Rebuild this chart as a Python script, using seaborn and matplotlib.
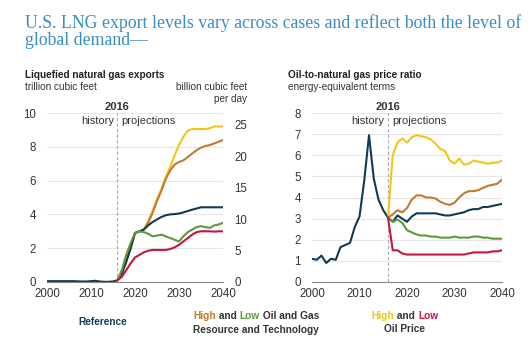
import numpy as np
import pandas as pd
import matplotlib
matplotlib.use("Agg")
import matplotlib.pyplot as plt
import seaborn as sns

sns.set_theme(style="white")
plt.rcParams['font.family'] = ['Liberation Sans', 'DejaVu Sans']

# ---------------- data ----------------
hist_years = list(range(2000, 2017))
proj_years = list(range(2016, 2041))

# LNG exports, trillion cubic feet
lng_history = [0.05, 0.05, 0.05, 0.05, 0.05, 0.05, 0.05, 0.04, 0.03, 0.03, 0.05,
               0.07, 0.03, 0.01, 0.01, 0.03, 0.1]
lng_reference = [0.1, 0.5, 1.2, 2.0, 2.9, 3.0, 3.1, 3.35, 3.55, 3.7, 3.85, 3.95,
                 4.0, 4.02, 4.05, 4.12, 4.2, 4.28, 4.35, 4.42, 4.42, 4.42, 4.42, 4.42, 4.42]
lng_high_res = [0.1, 0.5, 1.2, 2.0, 2.9, 3.0, 3.1, 3.5, 4.1, 4.8, 5.4, 6.1,
                6.6, 6.95, 7.1, 7.2, 7.4, 7.6, 7.8, 7.95, 8.05, 8.1, 8.2, 8.3, 8.4]
lng_low_res = [0.1, 0.7, 1.6, 2.3, 2.9, 3.0, 2.95, 2.85, 2.7, 2.75, 2.8, 2.7,
               2.6, 2.5, 2.4, 2.7, 2.95, 3.1, 3.25, 3.3, 3.25, 3.2, 3.35, 3.4, 3.5]
lng_high_oil = [0.1, 0.5, 1.2, 2.0, 2.9, 3.0, 3.1, 3.6, 4.2, 4.9, 5.5, 6.2,
                6.8, 7.5, 8.1, 8.6, 8.95, 9.05, 9.05, 9.05, 9.05, 9.1, 9.2, 9.2, 9.2]
lng_low_oil = [0.1, 0.3, 0.7, 1.1, 1.45, 1.6, 1.75, 1.85, 1.9, 1.9, 1.9, 1.9,
               1.95, 2.05, 2.2, 2.4, 2.6, 2.8, 2.95, 3.0, 3.0, 3.0, 2.98, 3.0, 3.0]

# Oil-to-natural gas price ratio
ratio_history = [1.1, 1.05, 1.25, 0.9, 1.1, 1.05, 1.65, 1.75, 1.85, 2.6, 3.1,
                 4.8, 6.95, 4.9, 3.9, 3.4, 3.05]
ratio_reference = [3.05, 2.85, 3.15, 3.0, 2.85, 3.1, 3.25, 3.25, 3.25, 3.25, 3.25,
                   3.2, 3.15, 3.15, 3.2, 3.25, 3.3, 3.4, 3.45, 3.45, 3.55, 3.55, 3.6, 3.65, 3.7]
ratio_high_res = [3.05, 3.2, 3.4, 3.3, 3.5, 3.9, 4.1, 4.1, 4.0, 4.0, 3.95, 3.8,
                  3.7, 3.65, 3.75, 4.0, 4.2, 4.3, 4.3, 4.35, 4.45, 4.55, 4.6, 4.65, 4.85]
ratio_low_res = [3.05, 2.85, 2.95, 2.8, 2.45, 2.35, 2.25, 2.2, 2.2, 2.15, 2.15, 2.1,
                 2.1, 2.1, 2.15, 2.1, 2.1, 2.1, 2.15, 2.15, 2.1, 2.1, 2.05, 2.05, 2.05]
ratio_high_oil = [3.05, 6.0, 6.6, 6.8, 6.6, 6.85, 6.95, 6.9, 6.85, 6.75, 6.55, 6.3,
                  6.2, 5.75, 5.6, 5.85, 5.55, 5.6, 5.75, 5.7, 5.65, 5.6, 5.65, 5.65, 5.75]
ratio_low_oil = [3.05, 1.5, 1.5, 1.35, 1.3, 1.3, 1.3, 1.3, 1.3, 1.3, 1.3, 1.3,
                 1.3, 1.3, 1.3, 1.3, 1.3, 1.35, 1.4, 1.4, 1.4, 1.4, 1.45, 1.45, 1.5]

x_ticks = [2000, 2010, 2020, 2030, 2040]
left_ticks = [0, 2, 4, 6, 8, 10]
right2_ticks = [0, 5, 10, 15, 20, 25]
ratio_ticks = [0, 1, 2, 3, 4, 5, 6, 7, 8]

title_lines = ["U.S. LNG export levels vary across cases and reflect both the level of",
               "global demand\u2014"]

# ---------------- styles ----------------
C_REF = "#123a56"
C_HRES = "#c47a2c"
C_LRES = "#5c9a3a"
C_HOIL = "#f3c51a"
C_LOIL = "#c3173f"
TITLE_C = "#3a8dc4"
GRID_C = "#e6e6e6"
TEXT_C = "#333333"

series_order = ["history", "high_oil", "high_res", "reference", "low_res", "low_oil"]
palette = {"history": C_REF, "reference": C_REF, "high_res": C_HRES,
           "low_res": C_LRES, "high_oil": C_HOIL, "low_oil": C_LOIL}


def make_df(hist, ref, hres, lres, hoil, loil):
    frames = [pd.DataFrame({"year": hist_years, "value": hist, "case": "history"})]
    for name, vals in [("high_oil", hoil), ("high_res", hres), ("low_res", lres),
                       ("low_oil", loil), ("reference", ref)]:
        frames.append(pd.DataFrame({"year": proj_years, "value": vals, "case": name}))
    return pd.concat(frames, ignore_index=True)


df_lng = make_df(lng_history, lng_reference, lng_high_res, lng_low_res, lng_high_oil, lng_low_oil)
df_ratio = make_df(ratio_history, ratio_reference, ratio_high_res, ratio_low_res,
                   ratio_high_oil, ratio_low_oil)

W, H = 532, 338
fig = plt.figure(figsize=(W / 100, H / 100), dpi=100)


def px_axes(x0, y_top, x1, y_bot):
    return fig.add_axes([x0 / W, 1 - y_bot / H, (x1 - x0) / W, (y_bot - y_top) / H])


def style_axes(ax, ymax, yticks):
    ax.set_xlim(2000, 2040)
    ax.set_ylim(0, ymax)
    ax.set_xticks(x_ticks)
    ax.set_yticks(yticks)
    ax.tick_params(axis="both", labelsize=8.3, colors=TEXT_C, length=0, pad=3)
    ax.tick_params(axis="x", length=3, width=0.8, color="#888888", direction="inout")
    for lab in ax.get_xticklabels() + ax.get_yticklabels():
        lab.set_color(TEXT_C)
    for s in ["top", "right", "left"]:
        ax.spines[s].set_visible(False)
    ax.spines["bottom"].set_color("#888888")
    ax.spines["bottom"].set_linewidth(0.8)
    for t in yticks[1:]:
        ax.axhline(t, color=GRID_C, lw=0.8, zorder=0)
    ax.axvline(2016, color="#aaaaaa", lw=0.8, ls=(0, (3, 2)), zorder=1)
    ax.set_xlabel("")
    ax.set_ylabel("")
    ax.set_facecolor("none")
    ax.text(2016, ymax * 1.005, "2016", ha="center", va="bottom", fontsize=8,
            fontweight="bold", color=TEXT_C)
    ax.text(2015.2, ymax * 0.985, "history", ha="right", va="top", fontsize=8, color=TEXT_C)
    ax.text(2016.8, ymax * 0.985, "projections", ha="left", va="top", fontsize=8, color=TEXT_C)


# ---------------- left chart ----------------
ax1 = px_axes(47, 113, 223, 282)
sns.lineplot(data=df_lng, x="year", y="value", hue="case", hue_order=series_order,
             palette=palette, ax=ax1, legend=False, linewidth=1.5, sort=False)
style_axes(ax1, 10, left_ticks)
ax1.tick_params(axis="y", pad=8)
ax1r = ax1.twinx()
ax1r.set_ylim(0, 26.9)
ax1r.set_yticks(right2_ticks)
ax1r.tick_params(axis="y", labelsize=8.3, colors=TEXT_C, length=0, pad=8)
for s in ax1r.spines.values():
    s.set_visible(False)
ax1r.grid(False)

# ---------------- right chart ----------------
ax2 = px_axes(312, 113, 502, 282)
sns.lineplot(data=df_ratio, x="year", y="value", hue="case", hue_order=series_order,
             palette=palette, ax=ax2, legend=False, linewidth=1.5, sort=False)
style_axes(ax2, 8, ratio_ticks)
ax2.tick_params(axis="y", pad=8)

# ---------------- texts ----------------
for line, base in zip(title_lines, [28, 45]):
    fig.text(25 / W, 1 - base / H, line, ha="left", va="baseline", fontsize=12.8,
             color=TITLE_C, family="Liberation Serif")

SUB_FS = 7.2
fig.text(25 / W, 1 - 75 / H, "Liquefied natural gas exports", ha="left", va="center",
         fontsize=SUB_FS, fontweight="bold", color="#222222")
fig.text(25 / W, 1 - 87 / H, "trillion cubic feet", ha="left", va="center",
         fontsize=SUB_FS, color=TEXT_C)
fig.text(247 / W, 1 - 87 / H, "billion cubic feet", ha="right", va="center",
         fontsize=SUB_FS, color=TEXT_C)
fig.text(247 / W, 1 - 99 / H, "per day", ha="right", va="center",
         fontsize=SUB_FS, color=TEXT_C)
fig.text(288 / W, 1 - 75 / H, "Oil-to-natural gas price ratio", ha="left", va="center",
         fontsize=SUB_FS, fontweight="bold", color="#222222")
fig.text(288 / W, 1 - 87 / H, "energy-equivalent terms", ha="left", va="center",
         fontsize=SUB_FS, color=TEXT_C)

# legend texts
LEG_FS = 7.3
fig.text(103 / W, 1 - 322 / H, "Reference", ha="center", va="center",
         fontsize=LEG_FS, fontweight="bold", color=C_REF)


def colored_line(parts, xc, yc):
    # parts: list of (text, color); centered at xc (px), yc (px)
    renderer = fig.canvas.get_renderer()
    texts = []
    widths = []
    for t, c in parts:
        tx = fig.text(0, 1 - yc / H, t, ha="left", va="center", fontsize=LEG_FS,
                      fontweight="bold", color=c)
        bb = tx.get_window_extent(renderer=renderer)
        texts.append(tx)
        widths.append(bb.width)
    total = sum(widths)
    x = xc - total / 2
    for tx, w in zip(texts, widths):
        tx.set_x(x / W)
        x += w


colored_line([("High", C_HRES), (" and ", "#333333"), ("Low", C_LRES),
              (" Oil and Gas", "#333333")], 256, 316)
fig.text(256 / W, 1 - 330 / H, "Resource and Technology", ha="center", va="center",
         fontsize=LEG_FS, fontweight="bold", color="#333333")
colored_line([("High", C_HOIL), (" and ", "#333333"), ("Low", C_LOIL)], 405, 316)
fig.text(405 / W, 1 - 329 / H, "Oil Price", ha="center", va="center",
         fontsize=LEG_FS, fontweight="bold", color="#333333")

fig.savefig("out.png", dpi=100)
